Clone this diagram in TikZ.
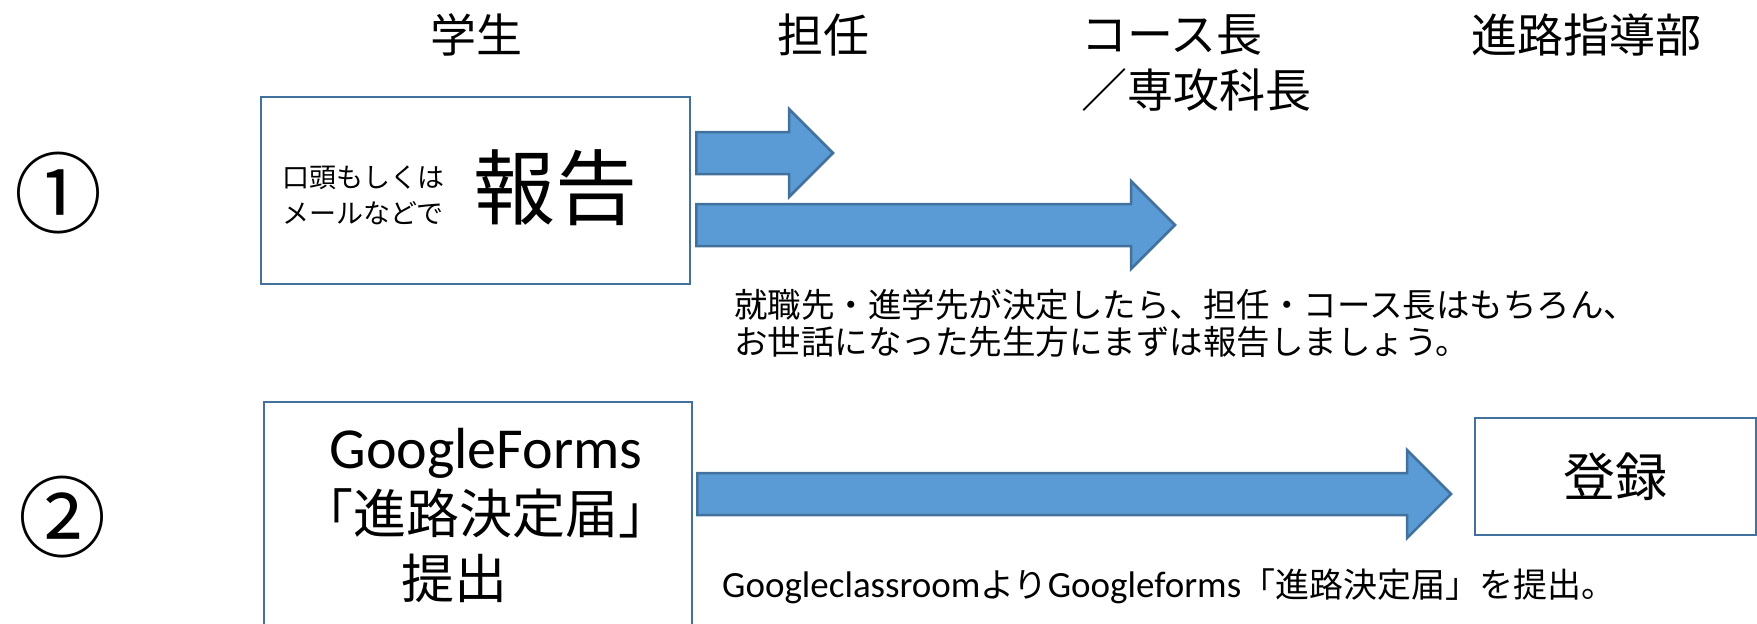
\documentclass[tikz,border=0pt]{standalone}
\usepackage{fontspec}
\setmainfont{Noto Sans CJK JP}
\newfontfamily\lat{Carlito}
\usetikzlibrary{calc}
\definecolor{afill}{HTML}{5B9BD5}
\definecolor{aline}{HTML}{41719C}
\newcommand\fs[2]{\fontsize{#1}{#2}\selectfont}
\tikzset{
  boxnode/.style={draw=aline, line width=2.5pt, fill=white, inner sep=0pt},
  barrow/.style={fill=afill, draw=aline, line width=2.5pt, line join=miter},
  hdr/.style={font=\fs{46}{50}, inner sep=0pt},
  txt/.style={inner sep=0pt},
}
\newcommand\blockarrow[2]{%
  \path[barrow] let \p1=(#1), \p2=(#2) in
    (\x1,\y2+21pt) -- (\x2-44pt,\y2+21pt) -- (\x2-44pt,\y2+44pt) -- (\x2,\y2)
    -- (\x2-44pt,\y2-44pt) -- (\x2-44pt,\y2-21pt) -- (\x1,\y2-21pt) -- cycle;}
\begin{document}
\begin{tikzpicture}[x=1pt,y=-1pt]
\useasboundingbox (0,0) rectangle (1757,624);
% column headers
\node[hdr] (h1) at (476,35) {学生};
\node[hdr] (h2) at (823,35) {担任};
\node[hdr, anchor=west] (h3) at (1081,35) {コース長};
\node[hdr, anchor=west] (h3b) at (1081,90) {／専攻科長};
\node[hdr] (h4) at (1586,35) {進路指導部};
% step numbers
\node[txt, font=\fs{88}{90}] (n1) at (58,193) {①};
\node[txt, font=\fs{88}{90}] (n2) at (62,517) {②};
% step 1
\node[boxnode, minimum width=429pt, minimum height=187pt] (report) at (475.5,190.5) {};
\node[txt, font=\fs{27}{36}, align=left, anchor=west] (how) at (282,195) {口頭もしくは\\メールなどで};
\node[txt, font=\fs{82}{86}] (big) at (555,188) {報告};
\coordinate (t1) at (833,153);
\coordinate (t2) at (1175,225);
\blockarrow{$(report.east)+(5,0)$}{t1}
\blockarrow{$(report.east)+(5,0)$}{t2}
\node[txt, font=\fs{33.5}{37}, align=left, anchor=west] (note1) at (734,323)
  {就職先・進学先が決定したら、担任・コース長はもちろん、\\お世話になった先生方にまずは報告しましょう。};
% step 2
\node[boxnode, minimum width=428pt, minimum height=238pt] (form) at (478,521) {};
\node[txt, font=\fs{53}{65}, align=center] (formtext) at (486,515)
  {{\lat\fs{58}{65}GoogleForms}\\「進路決定届」\\\hspace*{-64pt}提出};
\node[boxnode, minimum width=281pt, minimum height=117pt, font=\fs{52}{56}] (reg) at (1615.5,476.5) {登録};
\coordinate (t3) at (1451,494);
\blockarrow{$(form.east)+(4,0)$}{t3}
\node[txt, anchor=west] (note2) at (722,586)
  {{\lat\fs{37}{40}Googleclassroom}{\fs{34}{40}より}{\lat\fs{37}{40}Googleforms}{\fs{34}{40}「進路決定届」を提出。}};
\end{tikzpicture}
\end{document}
